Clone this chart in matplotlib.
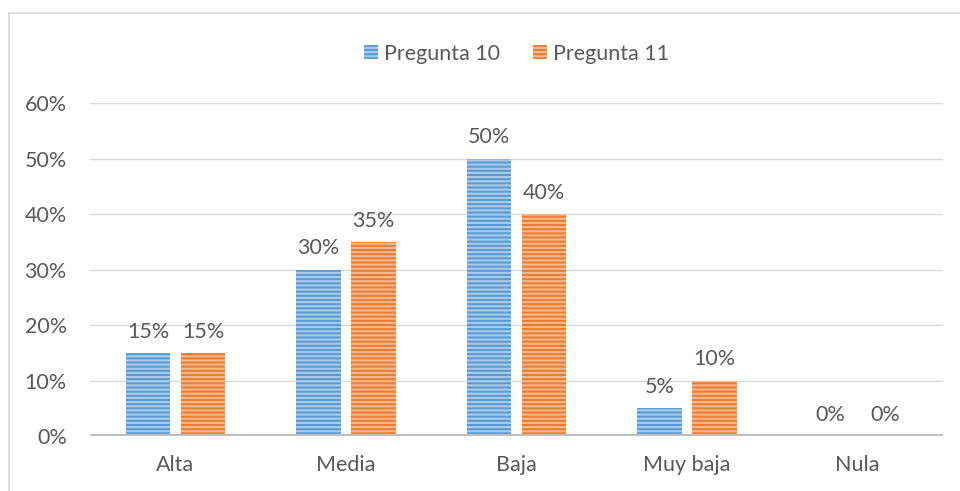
from matplotlib import pyplot as plt
from matplotlib.lines import Line2D
import numpy as np

categorias = ['Alta', 'Media', 'Baja', 'Muy baja', 'Nula']
pregunta_10 = [15, 30, 50, 5, 0]
pregunta_11 = [15, 35, 40, 10, 0]
series_names = ['Pregunta 10', 'Pregunta 11']
y_ticks = [0, 10, 20, 30, 40, 50, 60]

plt.rcParams['font.family'] = ['Lato', 'DejaVu Sans']
plt.rcParams['hatch.linewidth'] = 1.5

txt = '#595959'
blue, blue_l = '#5B9BD5', '#A9CBEA'
orange, orange_l = '#ED7D31', '#F6B98E'
fs = 15.5

fig = plt.figure(figsize=(9.6, 4.91), dpi=100)
ax = fig.add_axes([0.094, 0.112, 0.888, 0.678])

x = np.arange(len(categorias))
w = 0.263
off = 0.161
b1 = ax.bar(x - off, pregunta_10, w, color=blue, edgecolor=blue_l, hatch='----',
            linewidth=0, label=series_names[0], zorder=3)
b2 = ax.bar(x + off, pregunta_11, w, color=orange, edgecolor=orange_l, hatch='----',
            linewidth=0, label=series_names[1], zorder=3)

for bars, vals in ((b1, pregunta_10), (b2, pregunta_11)):
    for rect, v in zip(bars, vals):
        ax.annotate('%d%%' % v, xy=(rect.get_x() + rect.get_width() / 2, v),
                    xytext=(0, 8), textcoords='offset points', ha='center', va='bottom',
                    fontsize=fs, color=txt)

ax.set_xlim(-0.5, len(categorias) - 0.5)
ax.set_ylim(0, 60)
ax.set_yticks(y_ticks)
ax.set_yticklabels(['%d%%' % t for t in y_ticks])
ax.set_xticks(x)
ax.set_xticklabels(categorias)
ax.tick_params(axis='both', length=0, labelsize=fs, labelcolor=txt)
ax.tick_params(axis='y', pad=17)
ax.tick_params(axis='x', pad=14)
ax.grid(axis='y', color='#D9D9D9', linewidth=1, zorder=0)
for s in ax.spines.values():
    s.set_visible(False)
ax.axhline(0, color='#BFBFBF', linewidth=3, zorder=4)

ax.legend(loc='lower center', bbox_to_anchor=(0.5, 1.06), ncol=2, frameon=False,
          fontsize=fs, labelcolor=txt, handlelength=0.65, handleheight=0.65,
          handletextpad=0.3, columnspacing=1.5)

# chart border (top and left)
fig.add_artist(Line2D([9 / 960, 9 / 960], [0, 1 - 13 / 491], color='#D9D9D9', linewidth=1.2,
                      transform=fig.transFigure))
fig.add_artist(Line2D([9 / 960, 1], [1 - 13 / 491, 1 - 13 / 491], color='#D9D9D9', linewidth=1.2,
                      transform=fig.transFigure))

fig.savefig('out.png', dpi=100)
